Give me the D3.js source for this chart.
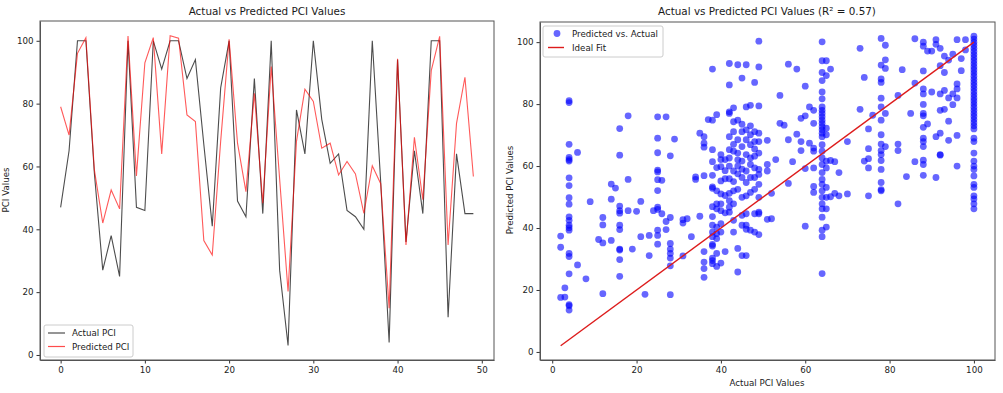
<!DOCTYPE HTML>
<html>

<head>
    <script src="https://d3js.org/d3.v7.min.js"></script>
</head>
<style type="text/css">
    body {
        margin: 0;
        background: #fff;
    }

    text {
        font-family: "DejaVu Sans", sans-serif;
        fill: #1a1a1a;
    }

    .tick text {
        font-size: 8.7px;
        fill: #222;
    }

    .tick line {
        stroke: #333;
    }

    .domain {
        stroke: #555;
    }
</style>

<body>
    <svg id="chart" width="1003" height="393"></svg>
    <script>
        // left panel: 50 samples
        var sampleIndex = d3.range(50);
        var actualPCI = [47, 65, 100, 100, 58, 27, 38, 25, 100, 47,
            46, 100, 91, 100, 100, 88, 94, 67, 41, 85,
            100, 49, 44, 88, 45, 100, 27, 3, 78, 64,
            100, 75, 61, 64, 46, 44, 40, 100, 55, 4,
            94, 36, 65, 45, 100, 100, 12, 64, 45, 45];
        var predictedPCI = [79, 70, 96, 101, 59, 42, 52.5, 46.5, 101.5, 57,
            93, 101, 64, 101.6, 100.8, 76.4, 74.3, 36.4, 31.8, 68,
            100.5, 67.4, 52, 83.3, 48.3, 91.8, 56, 20.2, 68, 84.6,
            80.7, 65.8, 67.4, 57.3, 61.6, 57.6, 45.1, 60.2, 54.5, 14.9,
            94.3, 35, 69.3, 49.4, 90.5, 101.4, 35, 73.7, 88.4, 56.8];
        var leftXTicks = [0, 10, 20, 30, 40, 50];
        var leftYTicks = [0, 20, 40, 60, 80, 100];

        // right panel: [actual, predicted] for the whole test set
        var scatterPoints = [
            [2, 37.4], [2, 33.8], [2, 17.6], [3, 20.7], [3, 17.7],
            [4, 81.1], [4, 80.5], [4, 67], [4, 62.8], [4, 62.1], [4, 61.6], [4, 56.2], [4, 53.7], [4, 49.8], [4, 47.7],
            [4, 43.6], [4, 42.5], [4, 40.9], [4, 40.1], [4, 39.3], [4, 31.8], [4, 30.8], [4, 25.2], [4, 15.3], [4, 14.9], [4, 13.5],
            [6, 64.4], [6, 28.1], [8, 23.6], [9, 48.5], [11, 36.3],
            [12, 43.4], [12, 41], [12, 35.2], [12, 18.8], [14, 54.2], [14, 49.3], [14, 36], [15, 52.9],
            [16, 72.1], [16, 63.5], [16, 47.1], [16, 45.6], [16, 44.8], [16, 40.9], [16, 39.5], [16, 33.2], [16, 32.9], [16, 29.8], [16, 24.4],
            [18, 76.2], [18, 55.7], [18, 45.6], [19, 33.2], [20, 45.4], [21, 48.6], [21, 37.2], [22, 18.6],
            [23, 37.6], [23, 31.1], [24, 45.6],
            [25, 75.9], [25, 69], [25, 64.3], [25, 58.7], [25, 58.1], [25, 55.6], [25, 52.1], [25, 46.7], [25, 46], [25, 39.3], [25, 37.6], [25, 34.8],
            [26, 55.4], [26, 44.6], [27, 75.9], [27, 42.1], [27, 39.5],
            [28, 63.3], [28, 43.4], [28, 35], [28, 33.2], [28, 31.8], [28, 30.3], [28, 27.8], [28, 18.5],
            [29, 68.7], [31, 42.7], [31, 41.6], [31, 31], [32, 43], [33, 37.2], [34, 56.5], [34, 55.7], [35, 43.8], [35, 70.6],
            [36, 69.5], [36, 67.4], [36, 66.1], [36, 56.9], [36, 32.4], [36, 29], [36, 26.9], [36, 24.1], [37, 75],
            [38, 91.3], [38, 74.8], [38, 65.3], [38, 61.4], [38, 57], [38, 53.3], [38, 52.8], [38, 46.9], [38, 43.7], [38, 40.9],
            [38, 38.7], [38, 37.2], [38, 34.7], [38, 34.2], [38, 30.3], [38, 29.5], [38, 28.5],
            [39, 76.6], [39, 59.5], [39, 52], [39, 47.8], [39, 46.2], [39, 40.3], [39, 38.2], [39, 36.6], [39, 31.8], [39, 27.6],
            [40, 63.7], [40, 62.1], [40, 59.8], [40, 55.2], [40, 51], [40, 47.8], [40, 45.6], [40, 41.4], [40, 38.7], [40, 28.7],
            [41, 62.1], [41, 55.9], [41, 44.9], [41, 32.4], [41, 58.5], [41, 50.5],
            [42, 93.1], [42, 86.2], [42, 77.5], [42, 77], [42, 69.5], [42, 65.3], [42, 62.6], [42, 60], [42, 55.9], [42, 51.2], [42, 48.8], [42, 46.7], [42, 45.1],
            [43, 78.8], [43, 74.3], [43, 71.1], [43, 64.8], [43, 58.4], [43, 52], [43, 47.8], [43, 42.5], [43, 38.7], [43, 67], [43, 55],
            [44, 92.7], [44, 74.8], [44, 68.5], [44, 64.2], [44, 60], [44, 52.5], [44, 33.4], [44, 25.8], [44, 57.5], [44, 62],
            [45, 88.4], [45, 71.1], [45, 66.3], [45, 61.6], [45, 56.3], [45, 49.9], [45, 44.1], [45, 40.9], [45, 31.1], [45, 73.5], [45, 59],
            [46, 92.7], [46, 79.1], [46, 71.7], [46, 68.5], [46, 63.7], [46, 58.4], [46, 54.7], [46, 50.4], [46, 44.6], [46, 40.9], [46, 39.6], [46, 31.1],
            [47, 79.6], [47, 70.1], [47, 66.9], [47, 62.6], [47, 56.3], [47, 51.5], [47, 39.3], [47, 60.5], [47, 73],
            [48, 87], [48, 71.1], [48, 67.9], [48, 63.2], [48, 59.4], [48, 56.3], [48, 52.5], [48, 44.6], [48, 38.7], [48, 65.5],
            [49, 100.3], [49, 92], [49, 79.4], [49, 70.6], [49, 67.9], [49, 64.2], [49, 58.9], [49, 57.3], [49, 54.1], [49, 49.9], [49, 45.1], [49, 44.6], [49, 37.9],
            [51, 68.3], [51, 60.5], [51, 58.4], [51, 42.8], [52, 51.2], [52, 43], [53, 62.1], [54, 82.8], [54, 73.8], [55, 73.2],
            [56, 92.9], [56, 68.5], [56, 54.4], [57, 61.4], [58, 91.3], [58, 70.3], [59, 75.4], [59, 67.9], [59, 65],
            [60, 85.8], [60, 76.2], [60, 59.2], [60, 40.6], [61, 79.1], [61, 67.4],
            [62, 78], [62, 73.8], [62, 65.8], [62, 64.8], [62, 59.4], [62, 53.4], [62, 51.5],
            [64, 100.1], [64, 94], [64, 90.2], [64, 87.6], [64, 83.9], [64, 81.7], [64, 79.1], [64, 78], [64, 77], [64, 75.9],
            [64, 74.8], [64, 73.8], [64, 72.7], [64, 71.7], [64, 70.6], [64, 69.5], [64, 66.9], [64, 64.8], [64, 62.6], [64, 60.5],
            [64, 57.9], [64, 55.7], [64, 54.1], [64, 52], [64, 49.9], [64, 47.8], [64, 46.2], [64, 43.5], [64, 39.3], [64, 37.2], [64, 25.3],
            [65, 94], [65, 89.2], [65, 72.2], [65, 70.1], [65, 61.6], [65, 59.4], [65, 53.1], [65, 49.9], [65, 46.2], [65, 40.3],
            [66, 91.3], [66, 61.8], [66, 50.1], [67, 51.2], [67, 61.4], [68, 57.9], [68, 50.4], [70, 67.9], [70, 51],
            [73, 98], [73, 78.3], [74, 88.6], [74, 61.6], [75, 72], [75, 65.6], [75, 62.4], [75, 59.4], [75, 50.4], [76, 76.4],
            [78, 101.2], [78, 92.6], [78, 88.1], [78, 87], [78, 81.9], [78, 79.1], [78, 74.8], [78, 70.1], [78, 67.1], [78, 65],
            [78, 63.7], [78, 61.8], [78, 58.9], [78, 54.7], [78, 52.4], [78, 52],
            [79, 99], [79, 94.3], [79, 91.5], [79, 77], [79, 66.3],
            [82, 82.8], [82, 67.1], [82, 65], [82, 47.8], [83, 91.1], [84, 56.6], [85, 77], [86, 101.1], [86, 86.8], [86, 61.4],
            [88, 100], [88, 98.7], [88, 90.7], [88, 84.9], [88, 83.3], [88, 79.9], [88, 77], [88, 76.2], [88, 72.5], [88, 69],
            [88, 67.9], [88, 66.3], [88, 61.9], [88, 60.5], [88, 57],
            [89, 73.6], [89, 97.1], [90, 97.1], [90, 83.9], [91, 100.8], [91, 99.3], [91, 56.3], [91, 69.5],
            [92, 98], [92, 92.4], [92, 83.3], [92, 78], [92, 70.6], [92, 63.7], [92, 63.5],
            [93, 95.5], [93, 90.2], [93, 84.4], [93, 78.3], [94, 94.2], [94, 82], [94, 74.5], [94, 68.3],
            [95, 96.1], [95, 83.3], [95, 79.8], [96, 100.8], [96, 86.5], [96, 84.9], [96, 82], [96, 69.9], [96, 60],
            [97, 94.7], [97, 90.8], [98, 100.8], [98, 97.5],
            [100, 101.9], [100, 101], [100, 100], [100, 99], [100, 98], [100, 97], [100, 96], [100, 95], [100, 94], [100, 93],
            [100, 92], [100, 91], [100, 90], [100, 89], [100, 88], [100, 87], [100, 86], [100, 85], [100, 84], [100, 83],
            [100, 82], [100, 81], [100, 80], [100, 79], [100, 78], [100, 77], [100, 76], [100, 75], [100, 74], [100, 73], [100, 72],
            [100, 69], [100, 67.9], [100, 64.2], [100, 61.6], [100, 60], [100, 58.9], [100, 56.8], [100, 54.1], [100, 53.1],
            [100, 50.4], [100, 49.4], [100, 47.8], [100, 46.2]
        ];
        var rightXTicks = [0, 20, 40, 60, 80, 100];
        var rightYTicks = [0, 20, 40, 60, 80, 100];

        var svg = d3.select("#chart");
        svg.append("rect").attr("width", 1003).attr("height", 393).attr("fill", "#fff");

        // ---------- left: line chart ----------
        var xL = d3.scaleLinear().domain([-2.45, 51.45]).range([40, 494]);
        var yL = d3.scaleLinear().domain([-1.6, 106.3]).range([360, 21]);

        var left = svg.append("g");

        left.append("g")
            .attr("transform", "translate(0,360)")
            .call(d3.axisBottom(xL).tickValues(leftXTicks).tickSize(3.5).tickPadding(3).tickSizeOuter(0));
        left.append("g")
            .attr("transform", "translate(40,0)")
            .call(d3.axisLeft(yL).tickValues(leftYTicks).tickSize(3.5).tickPadding(3).tickSizeOuter(0));

        var lineActual = d3.line()
            .x(function (d, i) { return xL(sampleIndex[i]); })
            .y(function (d) { return yL(d); });

        left.append("path")
            .datum(actualPCI)
            .attr("d", lineActual)
            .attr("fill", "none")
            .attr("stroke", "#000")
            .attr("stroke-opacity", 0.7)
            .attr("stroke-width", 1.1);

        left.append("path")
            .datum(predictedPCI)
            .attr("d", lineActual)
            .attr("fill", "none")
            .attr("stroke", "red")
            .attr("stroke-opacity", 0.65)
            .attr("stroke-width", 1.1);

        // frame
        left.append("rect")
            .attr("x", 40).attr("y", 21).attr("width", 454).attr("height", 339)
            .attr("fill", "none").attr("stroke", "#555").attr("stroke-width", 1);

        left.append("text")
            .attr("x", 267).attr("y", 15)
            .attr("text-anchor", "middle")
            .style("font-size", "10.4px")
            .text("Actual vs Predicted PCI Values");

        left.append("text")
            .attr("transform", "translate(9,190) rotate(-90)")
            .attr("text-anchor", "middle")
            .style("font-size", "8.7px")
            .text("PCI Values");

        // legend
        var legL = left.append("g").attr("transform", "translate(44,325)");
        legL.append("rect")
            .attr("width", 89).attr("height", 32).attr("rx", 2)
            .attr("fill", "#fff").attr("fill-opacity", 0.8)
            .attr("stroke", "#ccc");
        [["Actual PCI", "#000"], ["Predicted PCI", "red"]].forEach(function (e, k) {
            legL.append("line")
                .attr("x1", 4).attr("x2", 21)
                .attr("y1", 8 + k * 13.5).attr("y2", 8 + k * 13.5)
                .attr("stroke", e[1]).attr("stroke-opacity", 0.7).attr("stroke-width", 1.2);
            legL.append("text")
                .attr("x", 28).attr("y", 11 + k * 13.5)
                .style("font-size", "8.7px")
                .text(e[0]);
        });

        // ---------- right: scatter ----------
        var xR = d3.scaleLinear().domain([-2.9, 105]).range([540, 995]);
        var yR = d3.scaleLinear().domain([-2.6, 106.5]).range([360, 22]);

        var right = svg.append("g");

        right.append("g")
            .attr("transform", "translate(0,360)")
            .call(d3.axisBottom(xR).tickValues(rightXTicks).tickSize(3.5).tickPadding(3).tickSizeOuter(0));
        right.append("g")
            .attr("transform", "translate(540,0)")
            .call(d3.axisLeft(yR).tickValues(rightYTicks).tickSize(3.5).tickPadding(3).tickSizeOuter(0));

        right.selectAll("circle.pt")
            .data(scatterPoints)
            .enter().append("circle")
            .attr("class", "pt")
            .attr("cx", function (d) { return xR(d[0]); })
            .attr("cy", function (d) { return yR(d[1]); })
            .attr("r", 3.4)
            .attr("fill", "blue")
            .attr("fill-opacity", 0.6);

        var minA = d3.min(scatterPoints, function (d) { return d[0]; });
        var maxA = d3.max(scatterPoints, function (d) { return d[0]; });
        right.append("line")
            .attr("x1", xR(minA)).attr("y1", yR(minA))
            .attr("x2", xR(maxA)).attr("y2", yR(maxA))
            .attr("stroke", "#dd1c1c").attr("stroke-width", 1.4);

        right.append("rect")
            .attr("x", 540).attr("y", 22).attr("width", 455).attr("height", 338)
            .attr("fill", "none").attr("stroke", "#555").attr("stroke-width", 1);

        right.append("text")
            .attr("x", 767).attr("y", 15)
            .attr("text-anchor", "middle")
            .style("font-size", "10.4px")
            .text("Actual vs Predicted PCI Values (R² = 0.57)");

        right.append("text")
            .attr("transform", "translate(513,190) rotate(-90)")
            .attr("text-anchor", "middle")
            .style("font-size", "8.7px")
            .text("Predicted PCI Values");

        right.append("text")
            .attr("x", 767).attr("y", 386)
            .attr("text-anchor", "middle")
            .style("font-size", "8.7px")
            .text("Actual PCI Values");

        var legR = right.append("g").attr("transform", "translate(543,26)");
        legR.append("rect")
            .attr("width", 120).attr("height", 31).attr("rx", 2)
            .attr("fill", "#fff").attr("fill-opacity", 0.8)
            .attr("stroke", "#ccc");
        legR.append("circle")
            .attr("cx", 14).attr("cy", 7.5).attr("r", 3.4)
            .attr("fill", "blue").attr("fill-opacity", 0.6);
        legR.append("text")
            .attr("x", 29).attr("y", 10.5)
            .style("font-size", "8.7px")
            .text("Predicted vs. Actual");
        legR.append("line")
            .attr("x1", 5).attr("x2", 21).attr("y1", 21.5).attr("y2", 21.5)
            .attr("stroke", "#dd1c1c").attr("stroke-width", 1.4);
        legR.append("text")
            .attr("x", 29).attr("y", 24.5)
            .style("font-size", "8.7px")
            .text("Ideal Fit");
    </script>
</body>

</html>
